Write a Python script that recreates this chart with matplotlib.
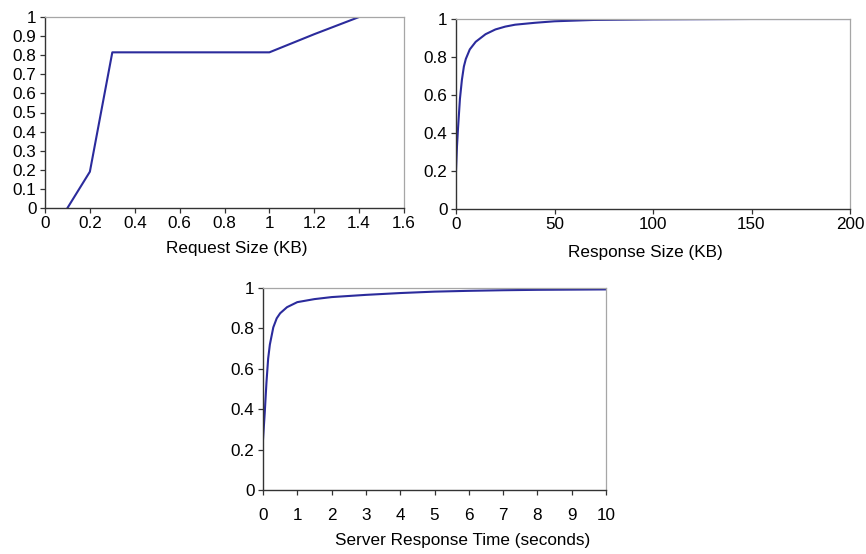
import matplotlib
matplotlib.use("Agg")
import matplotlib.pyplot as plt
from matplotlib.ticker import FuncFormatter

plt.rcParams['font.family'] = ['Liberation Sans', 'DejaVu Sans']

# Panel 1: Request size CDF
req_x = [0.1, 0.2, 0.3, 1.0, 1.2, 1.4]
req_y = [0.0, 0.19, 0.815, 0.815, 0.91, 1.0]

# Panel 2: Response size CDF
resp_x = [0, 0.5, 1, 2, 3, 4, 5, 7, 10, 15, 20, 25, 30, 40, 50, 70, 100, 150, 200]
resp_y = [0.2, 0.33, 0.42, 0.58, 0.68, 0.75, 0.79, 0.84, 0.88, 0.92, 0.945, 0.96,
          0.97, 0.98, 0.988, 0.995, 0.998, 1.0, 1.0]

# Panel 3: Server response time CDF
srt_x = [0, 0.05, 0.1, 0.15, 0.2, 0.3, 0.4, 0.5, 0.7, 1, 1.5, 2, 3, 4, 5, 6, 7, 8, 10]
srt_y = [0.25, 0.38, 0.53, 0.65, 0.72, 0.805, 0.85, 0.875, 0.905, 0.93, 0.945, 0.955,
         0.966, 0.975, 0.982, 0.986, 0.989, 0.991, 0.993]

LINE = '#2b2b9c'
FS = 12.3

fig = plt.figure(figsize=(8.66, 5.54), dpi=100)
W, H = 866, 554

def make_ax(l, r, t, b):
    return fig.add_axes([l / W, 1 - b / H, (r - l) / W, (b - t) / H])

def style(ax, xpad=2):
    for s in ['top', 'right']:
        ax.spines[s].set_color('#a6a6a6')
        ax.spines[s].set_linewidth(0.9)
    for s in ['left', 'bottom']:
        ax.spines[s].set_color('#333333')
        ax.spines[s].set_linewidth(1.0)
    ax.tick_params(direction='out', length=3.6, width=0.9, color='#333333',
                   labelsize=FS)
    ax.tick_params(axis='y', pad=2.5)
    ax.tick_params(axis='x', pad=xpad)
    fmt = FuncFormatter(lambda v, p: '%g' % round(v, 6))
    ax.xaxis.set_major_formatter(fmt)
    ax.yaxis.set_major_formatter(fmt)

ax1 = make_ax(45, 404, 17, 208)
ax1.plot(req_x, req_y, color=LINE, lw=1.5)
ax1.set_xlim(0, 1.6)
ax1.set_ylim(0, 1)
ax1.set_xticks([0, 0.2, 0.4, 0.6, 0.8, 1.0, 1.2, 1.4, 1.6])
ax1.set_yticks([i / 10 for i in range(11)])
style(ax1)
fig.text(237 / W, 1 - 249 / H, 'Request Size (KB)', ha='center', va='center', fontsize=FS)

ax2 = make_ax(456, 850, 19, 209)
ax2.plot(resp_x, resp_y, color=LINE, lw=1.5)
ax2.set_xlim(0, 200)
ax2.set_ylim(0, 1)
ax2.set_xticks([0, 50, 100, 150, 200])
ax2.set_yticks([0, 0.2, 0.4, 0.6, 0.8, 1.0])
style(ax2)
fig.text(645 / W, 1 - 252 / H, 'Response Size (KB)', ha='center', va='center', fontsize=FS)

ax3 = make_ax(263, 606, 288, 490)
ax3.plot(srt_x, srt_y, color=LINE, lw=1.5)
ax3.set_xlim(0, 10)
ax3.set_ylim(0, 1)
ax3.set_xticks(list(range(11)))
ax3.set_yticks([0, 0.2, 0.4, 0.6, 0.8, 1.0])
style(ax3, xpad=9)
fig.text(463 / W, 1 - 541 / H, 'Server Response Time (seconds)', ha='center', va='center', fontsize=FS)

fig.savefig('out.png', dpi=100)
